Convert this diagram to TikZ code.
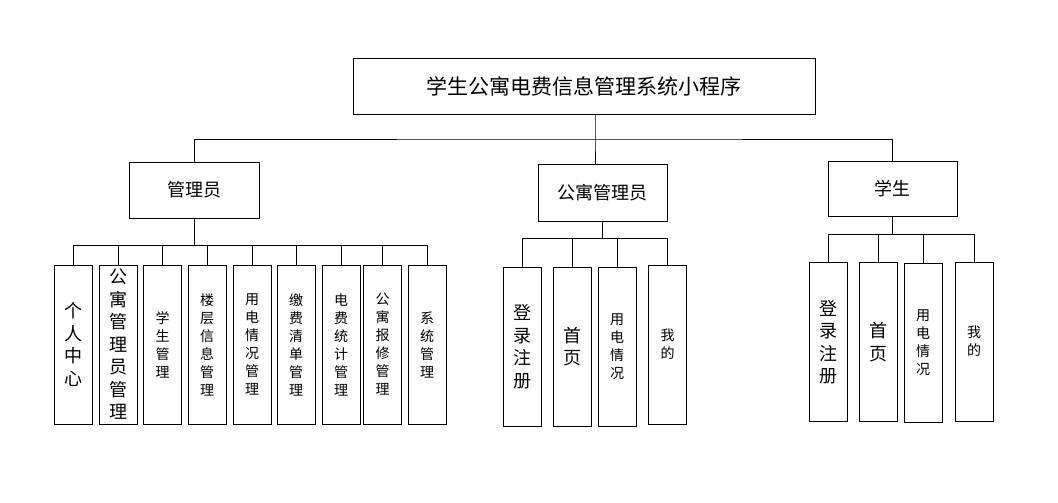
\documentclass[tikz,border=0pt]{standalone}
\usepackage{fontspec}
\setmainfont{Noto Sans CJK SC}
\begin{document}
\begin{tikzpicture}[x=1pt,y=-1pt,
  box/.style={draw,line width=0.9pt,inner sep=0pt,align=center},
  leafbig/.style={box,minimum width=38pt,minimum height=159pt,font=\fontsize{18}{22.5}\selectfont},
  leafsmall/.style={box,minimum width=38pt,minimum height=159pt,font=\fontsize{14}{18}\selectfont},
  link/.style={line width=0.8pt}]
\useasboundingbox (0,0) rectangle (1058,503);
% top levels
\node[box,minimum width=462pt,minimum height=56pt,font=\fontsize{21}{25}\selectfont] (root) at (584,86) {学生公寓电费信息管理系统小程序};
\node[box,minimum width=130pt,minimum height=56pt,font=\fontsize{18}{22}\selectfont] (admin) at (194,190) {管理员};
\node[box,minimum width=129pt,minimum height=57pt,font=\fontsize{18}{22}\selectfont] (aptadmin) at (602.5,192.5) {公寓管理员};
\node[box,minimum width=129pt,minimum height=55pt,font=\fontsize{18}{22}\selectfont] (student) at (892.5,188.5) {学生};
\coordinate (hub) at (595,139);
\draw[link] (root.south -| hub) -- (hub) -- (hub |- aptadmin.north);
\draw[link] (admin.north) |- (hub) -| (student.north);
% admin leaves
\foreach \n/\x/\t in {a1/73/{个\\人\\中\\心},a2/118/{公\\寓\\管\\理\\员\\管\\理}}
  \node[leafbig] (\n) at (\x,344.5) {\t};
\foreach \n/\x/\t in {a3/162.5/{学\\生\\管\\理},a4/207/{楼\\层\\信\\息\\管\\理},
  a5/252/{用\\电\\情\\况\\管\\理},a6/296/{缴\\费\\清\\单\\管\\理},
  a7/341/{电\\费\\统\\计\\管\\理},a8/382.5/{公\\寓\\报\\修\\管\\理},a9/427/{系\\统\\管\\理}}
  \node[leafsmall] (\n) at (\x,344.5) {\t};
\foreach \n in {a1,a2,a3,a4,a5,a6,a7,a8,a9}
  \draw[link] (admin.south) -- ++(0,27) -| (\n.north);
% apartment admin leaves
\node[leafbig] (b1) at (522,346.5) {登\\录\\注\\册};
\node[leafbig] (b2) at (572,346.5) {首\\页};
\node[leafsmall] (b3) at (617,346.5) {用\\电\\情\\况};
\node[leafsmall] (b4) at (667.5,344.5) {我\\的};
\foreach \n in {b1,b2,b3,b4}
  \draw[link] (aptadmin.south) -- ++(0,17) -| (\n.north);
% student leaves
\node[leafbig] (c1) at (828,342) {登\\录\\注\\册};
\node[leafbig] (c2) at (878.5,342) {首\\页};
\node[leafsmall] (c3) at (923,343) {用\\电\\情\\况};
\node[leafsmall] (c4) at (974,341.5) {我\\的};
\foreach \n in {c1,c2,c3,c4}
  \draw[link] (student.south) -- ++(0,18) -| (\n.north);
\end{tikzpicture}
\end{document}
